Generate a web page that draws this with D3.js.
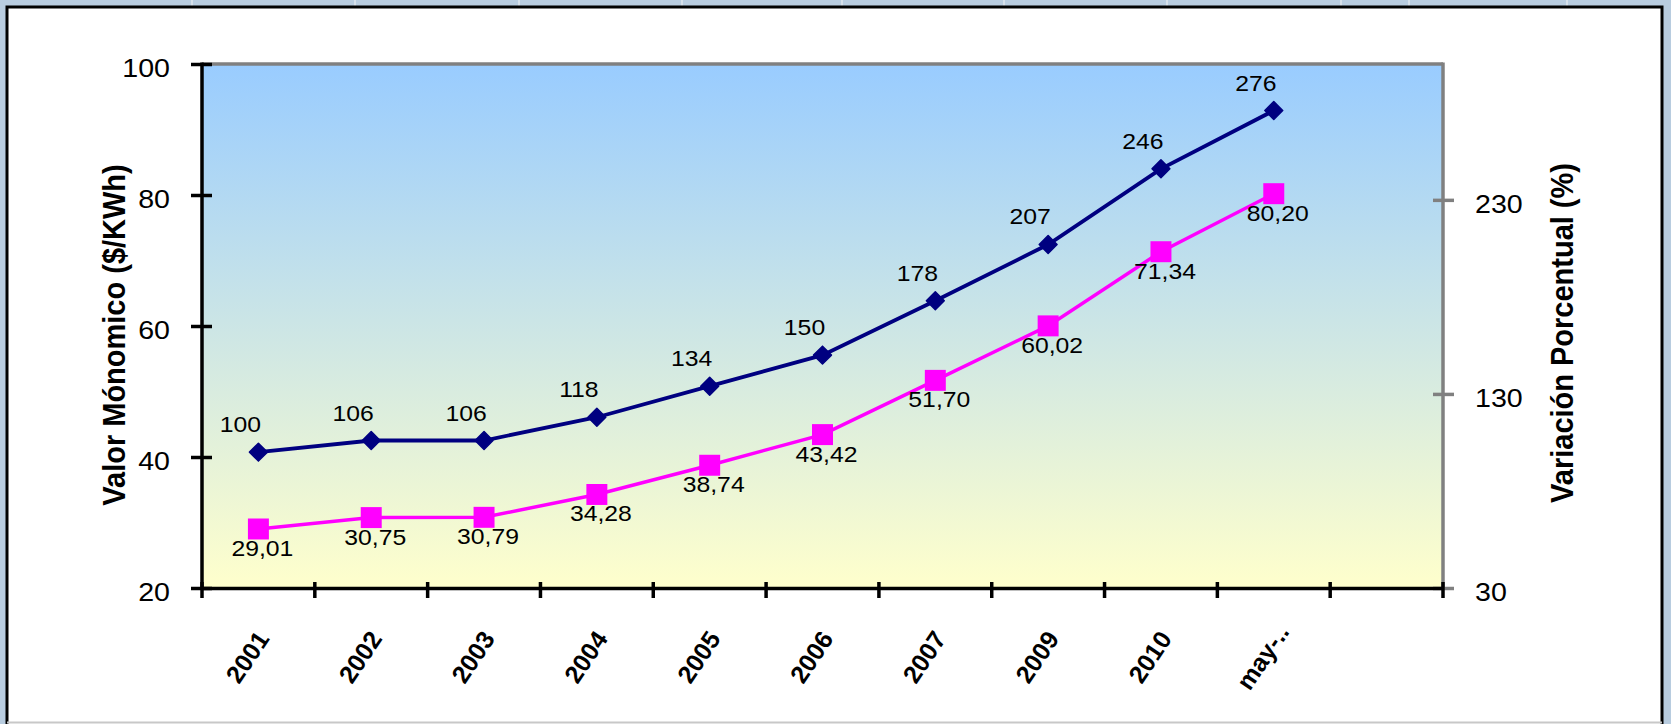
<!DOCTYPE html>
<html><head><meta charset="utf-8">
<script src="https://cdn.jsdelivr.net/npm/d3@7"></script>
<style>html,body{margin:0;padding:0;background:#B8CCDF;overflow:hidden}</style>
</head><body><svg id="c" width="1671" height="724"></svg>
<script>
// ---- data ----
const categories = ["2001","2002","2003","2004","2005","2006","2007","2009","2010","may-..",""];
const valorMonomico = [29.01, 30.75, 30.79, 34.28, 38.74, 43.42, 51.70, 60.02, 71.34, 80.20];
const variacionPorcentual = [100, 106, 106, 118, 134, 150, 178, 207, 246, 276];
const leftTicks = [20, 40, 60, 80, 100];
const rightTicks = [30, 130, 230];
const leftTitle = "Valor Mónomico ($/KWh)";
const rightTitle = "Variación Porcentual  (%)";

// ---- layout ----
const W = 1671, H = 724;
const P = {left: 202, right: 1443, top: 64, bottom: 588};
const SX = 1.1; // horizontal glyph stretch seen in the reference
const font = "'Liberation Sans', Arial, Helvetica, sans-serif";
const svg = d3.select("#c").attr("font-family", font);

const x = d3.scaleBand().domain(categories).range([P.left, P.right]).padding(0);
const yL = d3.scaleLinear().domain([20, 100]).range([P.bottom, P.top]);
const yR = d3.scaleLinear().domain([30, 300]).range([P.bottom, P.top]);
const cx = i => x(categories[i]) + x.bandwidth() / 2;

// outside (spreadsheet) background
svg.append("rect").attr("width", W).attr("height", H).attr("fill", "#B8CCDF");
const seps = [192, 355, 519, 682, 842, 1004, 1167, 1341, 1409, 1567];
svg.selectAll("line.sep").data(seps).join("line").attr("class", "sep")
  .attr("x1", d => d).attr("x2", d => d).attr("y1", 0).attr("y2", H)
  .attr("stroke", "#D6E0EA").attr("stroke-width", 2);

// chart frame
svg.append("rect").attr("x", 7).attr("y", 7).attr("width", 1655).attr("height", 745)
  .attr("fill", "#fff").attr("stroke", "#000").attr("stroke-width", 3);
svg.append("line").attr("x1", 7).attr("x2", 1662).attr("y1", 722.5).attr("y2", 722.5)
  .attr("stroke", "#C8C8C8").attr("stroke-width", 2);

// plot area gradient
const defs = svg.append("defs");
const grad = defs.append("linearGradient").attr("id", "bg").attr("x1", 0).attr("y1", 0).attr("x2", 0).attr("y2", 1);
grad.append("stop").attr("offset", "0%").attr("stop-color", "#99CCFF");
grad.append("stop").attr("offset", "100%").attr("stop-color", "#FFFFCC");
svg.append("rect").attr("x", P.left).attr("y", P.top).attr("width", P.right - P.left).attr("height", P.bottom - P.top)
  .attr("fill", "url(#bg)");

// top border (grey)
svg.append("line").attr("x1", P.left).attr("x2", P.right).attr("y1", P.top).attr("y2", P.top)
  .attr("stroke", "#808080").attr("stroke-width", 3.5);

// right axis (grey)
const gR = svg.append("g").attr("transform", `translate(${P.right},0)`)
  .call(d3.axisRight(yR).tickValues(rightTicks).tickSize(10).tickFormat(d3.format("d")));
gR.attr("font-family", font).attr("font-size", 26);
gR.select(".domain").remove();
gR.selectAll(".tick line").attr("x1", -10).attr("x2", 11).attr("stroke", "#808080").attr("stroke-width", 3.5);
gR.selectAll(".tick text").attr("x", 32 / SX).attr("dy", "0.47em").attr("fill", "#000")
  .attr("transform", `scale(${SX},1)`);
svg.append("line").attr("x1", P.right).attr("x2", P.right).attr("y1", P.top - 1.5).attr("y2", P.bottom)
  .attr("stroke", "#808080").attr("stroke-width", 3.5);

// left axis (black)
const gL = svg.append("g").attr("transform", `translate(${P.left},0)`)
  .call(d3.axisLeft(yL).tickValues(leftTicks).tickSize(10).tickFormat(d3.format("d")));
gL.attr("font-family", font).attr("font-size", 26);
gL.select(".domain").remove();
gL.selectAll(".tick line").attr("x1", -11).attr("x2", 10).attr("stroke", "#000").attr("stroke-width", 3.5);
gL.selectAll(".tick text").attr("x", -32 / SX).attr("dy", "0.47em").attr("fill", "#000")
  .attr("transform", `scale(${SX},1)`);
svg.append("line").attr("x1", P.left).attr("x2", P.left).attr("y1", P.top - 1.5).attr("y2", P.bottom + 1.5)
  .attr("stroke", "#000").attr("stroke-width", 3.5);

// bottom axis (black), ticks at category boundaries
const gB = svg.append("g").attr("transform", `translate(0,${P.bottom})`)
  .call(d3.axisBottom(x).tickSize(0).tickFormat(""));
gB.select(".domain").attr("stroke", "#000").attr("stroke-width", 3.5);
const bounds = categories.map(c => x(c)).concat([x.range()[1]]);
svg.selectAll("line.btick").data(bounds).join("line").attr("class", "btick")
  .attr("x1", d => d).attr("x2", d => d).attr("y1", P.bottom - 6).attr("y2", P.bottom + 10)
  .attr("stroke", "#000").attr("stroke-width", 3.5);

// x labels rotated
svg.selectAll("text.xl").data(categories).join("text").attr("class", "xl")
  .attr("transform", (d, i) => `translate(${cx(i) - 11},657) rotate(-56)`)
  .attr("text-anchor", "middle").attr("dy", "0.35em")
  .attr("font-size", 25).attr("font-weight", "bold")
  .attr("fill", "#000").text(d => d);

// series lines
const lineL = d3.line().x((d, i) => cx(i)).y(d => yL(d));
const lineR = d3.line().x((d, i) => cx(i)).y(d => yR(d));
svg.append("path").datum(variacionPorcentual).attr("d", lineR)
  .attr("fill", "none").attr("stroke", "#000080").attr("stroke-width", 3.8);
svg.append("path").datum(valorMonomico).attr("d", lineL)
  .attr("fill", "none").attr("stroke", "#FF00FF").attr("stroke-width", 3.5);

// markers
const diamond = d3.symbol().type(d3.symbolSquare).size(160);
svg.selectAll("path.dm").data(variacionPorcentual).join("path").attr("class", "dm")
  .attr("d", diamond).attr("transform", (d, i) => `translate(${cx(i)},${yR(d)}) rotate(45)`)
  .attr("fill", "#000080").attr("stroke", "#000080").attr("stroke-width", 1.5).attr("stroke-linejoin", "round");
const square = d3.symbol().type(d3.symbolSquare).size(440);
svg.selectAll("path.sq").data(valorMonomico).join("path").attr("class", "sq")
  .attr("d", square).attr("transform", (d, i) => `translate(${cx(i)},${yL(d)})`)
  .attr("fill", "#FF00FF");

// data labels
const es = d3.formatLocale({decimal: ",", thousands: ".", grouping: [3], currency: ["$", ""]});
const fmt2 = es.format(".2f");
svg.selectAll("text.lr").data(variacionPorcentual).join("text").attr("class", "lr")
  .attr("transform", (d, i) => `translate(${cx(i) - 18},${yR(d) - 20}) scale(${SX},1)`)
  .attr("text-anchor", "middle").attr("font-size", 22.5).attr("fill", "#000").text(d => d);
svg.selectAll("text.ll").data(valorMonomico).join("text").attr("class", "ll")
  .attr("transform", (d, i) => `translate(${cx(i) + 4},${yL(d) + 27}) scale(${SX},1)`)
  .attr("text-anchor", "middle").attr("font-size", 22.5).attr("fill", "#000").text(d => fmt2(d));

// axis titles
svg.append("text").attr("transform", `translate(113,335) rotate(-90) scale(1,${SX})`)
  .attr("text-anchor", "middle").attr("dominant-baseline", "central")
  .attr("font-size", 29).attr("font-weight", "bold").attr("fill", "#000").text(leftTitle);
svg.append("text").attr("transform", `translate(1561,333) rotate(-90) scale(1,${SX})`)
  .attr("text-anchor", "middle").attr("dominant-baseline", "central")
  .attr("font-size", 29).attr("font-weight", "bold").attr("fill", "#000").text(rightTitle);
</script>
</body></html>
